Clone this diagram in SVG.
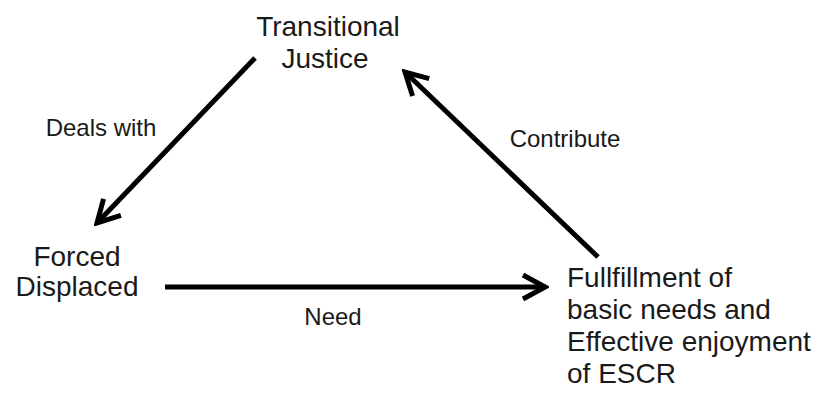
<svg xmlns="http://www.w3.org/2000/svg" width="824" height="394" viewBox="0 0 824 394">
  <defs>
    <style>
      .node { font-family: "Liberation Sans", Arial, sans-serif; font-size: 28px; fill: #1a1a1a; }
      .label { font-family: "Liberation Sans", Arial, sans-serif; font-size: 24px; fill: #1a1a1a; }
      .edge { stroke: #000; stroke-width: 5; fill: none; stroke-linecap: butt; }
    </style>
    <marker id="chev" viewBox="-26 -16 30 32" markerWidth="30" markerHeight="32" refX="0" refY="0" orient="auto" markerUnits="userSpaceOnUse">
      <path d="M -22 -12 L 0 0 L -22 12" fill="none" stroke="#000" stroke-width="5" stroke-linejoin="miter" stroke-miterlimit="10"/>
    </marker>
  </defs>

  <rect width="824" height="394" fill="#fff"/>

  <!-- connectors -->
  <g id="connectors">
    <line class="edge" x1="255" y1="58" x2="97" y2="223" marker-end="url(#chev)"/>
    <line class="edge" x1="598" y1="257" x2="405" y2="72" marker-end="url(#chev)"/>
    <line class="edge" x1="165" y1="287" x2="545" y2="287" marker-end="url(#chev)"/>
    <text class="label" x="101" y="136" text-anchor="middle">Deals with</text>
    <text class="label" x="565" y="147" text-anchor="middle">Contribute</text>
    <text class="label" x="333" y="325" text-anchor="middle">Need</text>
  </g>

  <!-- nodes -->
  <g id="transitional-justice">
    <text class="node" x="328" y="36" text-anchor="middle">Transitional</text>
    <text class="node" x="325" y="68" text-anchor="middle">Justice</text>
  </g>

  <g id="forced-displaced">
    <text class="node" x="77" y="266" text-anchor="middle">Forced</text>
    <text class="node" x="77" y="296" text-anchor="middle">Displaced</text>
  </g>

  <g id="fulfillment">
    <text class="node" x="567" y="287">Fullfillment of</text>
    <text class="node" x="567" y="319">basic needs and</text>
    <text class="node" x="567" y="351">Effective enjoyment</text>
    <text class="node" x="567" y="383">of ESCR</text>
  </g>
</svg>
